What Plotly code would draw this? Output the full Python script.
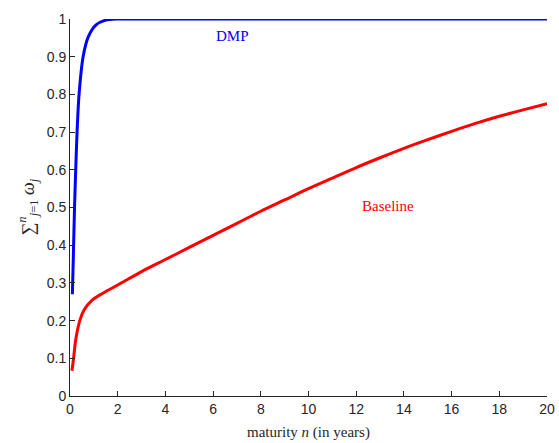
import plotly.graph_objects as go

# Cumulative weights by maturity (years)
maturity_dmp = [0.1, 0.14, 0.19, 0.24, 0.3, 0.38, 0.55, 0.77, 1.08, 1.5, 2.0, 3.0, 5.0, 10.0, 15.0, 20.0]
weights_dmp = [0.27, 0.37, 0.5, 0.6, 0.706, 0.8, 0.9, 0.953, 0.984, 0.997, 1.0, 1.0, 1.0, 1.0, 1.0, 1.0]

maturity_base = [0.083, 0.15, 0.24, 0.41, 0.59, 0.94, 1.36, 2.13, 3, 4, 5, 6, 7, 8, 9, 10,
                 11, 12, 13, 14, 15, 16, 17, 18, 19, 20]
weights_base = [0.067, 0.1, 0.149, 0.2, 0.228, 0.255, 0.272, 0.299, 0.33, 0.362, 0.394,
                0.426, 0.458, 0.49, 0.52, 0.55, 0.578, 0.606, 0.632, 0.657, 0.68, 0.702,
                0.723, 0.742, 0.759, 0.775]

x_ticks = list(range(0, 21, 2))
y_ticks = [round(0.1 * i, 1) for i in range(11)]
y_tick_text = ["0", "0.1", "0.2", "0.3", "0.4", "0.5", "0.6", "0.7", "0.8", "0.9", "1"]

axis_color = "#262626"
serif = "Liberation Serif"

fig = go.Figure()
fig.add_trace(go.Scatter(x=maturity_base, y=weights_base, mode="lines",
                         line=dict(color="#ff0000", width=3, shape="spline", smoothing=0.8),
                         cliponaxis=False, showlegend=False))
fig.add_trace(go.Scatter(x=maturity_dmp, y=weights_dmp, mode="lines",
                         line=dict(color="#0000ff", width=3, shape="spline", smoothing=0.8),
                         cliponaxis=False, showlegend=False))

fig.add_annotation(x=6.83, y=0.955, text="DMP", showarrow=False,
                   font=dict(family=serif, size=15, color="#0000ff"))
fig.add_annotation(x=13.33, y=0.505, text="Baseline", showarrow=False,
                   font=dict(family=serif, size=15, color="#ff0000"))

# axis titles
fig.add_annotation(xref="paper", yref="paper", x=0.5, y=0, yshift=-36, yanchor="middle",
                   text="maturity <i>n</i> (in years)", showarrow=False,
                   font=dict(family=serif, size=15, color=axis_color))
fig.add_annotation(xref="paper", yref="paper", x=0, xshift=-42, y=0.5, xanchor="center",
                   textangle=-90, showarrow=False,
                   text="∑<sup><i>n</i></sup><sub><i>j</i>=1</sub> <i>ω<sub>j</sub></i>",
                   font=dict(family=serif, size=18, color=axis_color))

fig.update_layout(
    width=559, height=443,
    margin=dict(l=70, r=12, t=19, b=47, autoexpand=False),
    paper_bgcolor="white", plot_bgcolor="white",
    font=dict(family="Liberation Sans", size=14, color=axis_color),
    xaxis=dict(range=[0, 20], tickvals=x_ticks, ticks="inside", ticklen=5,
               tickcolor=axis_color, showline=True, linecolor=axis_color, linewidth=1,
               showgrid=False, zeroline=False, automargin=False),
    yaxis=dict(range=[0, 1], tickvals=y_ticks, ticktext=y_tick_text, ticks="inside",
               ticklen=5, tickcolor=axis_color, showline=True, linecolor=axis_color,
               linewidth=1, showgrid=False, zeroline=False, automargin=False),
)

fig.write_html("out.html")
